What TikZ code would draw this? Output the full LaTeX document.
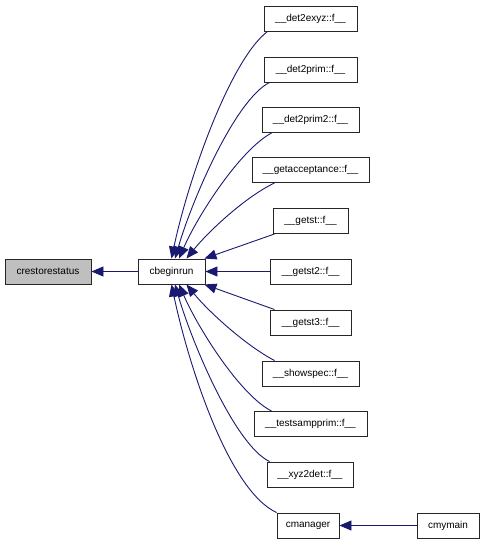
\documentclass[tikz,border=0pt]{standalone}
\usepackage{fontspec}
\setmainfont{Liberation Sans}
\usetikzlibrary{arrows.meta}
\definecolor{edgecol}{HTML}{191970}
\begin{document}
\begin{tikzpicture}[x=1pt,y=-1pt,
  box/.style={draw=black!85,line width=0.9pt,minimum height=25pt,inner sep=0pt,font=\fontsize{10}{12}\selectfont,fill=white},
  arr/.style={draw=edgecol,line width=0.9pt,-{Triangle[length=12pt,width=10pt]}}]
\useasboundingbox (0,0) rectangle (485,544);
\node[box,fill=black!25,minimum width=86pt] (crest) at (48,271.5) {crestorestatus};
\node[box,minimum width=67pt] (cbeg) at (171.5,271.5) {cbeginrun};
\node[box,minimum width=93pt] (d2exyz) at (310.5,18.5) {\_\_det2exyz::f\_\_};
\node[box,minimum width=93pt] (d2prim) at (310.5,69.5) {\_\_det2prim::f\_\_};
\node[box,minimum width=97pt] (d2prim2) at (310.5,120) {\_\_det2prim2::f\_\_};
\node[box,minimum width=117pt] (getacc) at (310.5,170) {\_\_getacceptance::f\_\_};
\node[box,minimum width=75pt] (getst) at (310.5,221) {\_\_getst::f\_\_};
\node[box,minimum width=81pt] (getst2) at (310.5,271.5) {\_\_getst2::f\_\_};
\node[box,minimum width=81pt] (getst3) at (310.5,322.5) {\_\_getst3::f\_\_};
\node[box,minimum width=97pt] (showspec) at (310.5,373.5) {\_\_showspec::f\_\_};
\node[box,minimum width=113pt] (testsamp) at (310.5,424) {\_\_testsampprim::f\_\_};
\node[box,minimum width=86pt] (xyz2det) at (310,474.5) {\_\_xyz2det::f\_\_};
\node[box,minimum width=62pt] (cman) at (308,525.5) {cmanager};
\node[box,minimum width=62pt] (cmy) at (448,525.5) {cmymain};

\draw[arr] (cbeg.west) -- (crest.east);
\draw[arr] (cmy.west) -- (cman.east);
\draw[arr] ([xshift=4pt]d2exyz.south west) .. controls (230,60) and (188,180) .. (cbeg.north);
\draw[arr] ([xshift=6pt]d2prim.south west) .. controls (235,100) and (192,200) .. ([xshift=3.5pt]cbeg.north);
\draw[arr] ([xshift=10pt]d2prim2.south west) .. controls (240,150) and (198,215) .. ([xshift=7.5pt]cbeg.north);
\draw[arr] ([xshift=23pt]getacc.south west) .. controls (245,197) and (208,232) .. ([xshift=15pt]cbeg.north);
\draw[arr] ([xshift=2pt]getst.south west) -- ([xshift=-1pt]cbeg.north east);
\draw[arr] (getst2.west) -- (cbeg.east);
\draw[arr] ([xshift=5pt]getst3.north west) -- ([xshift=-1pt]cbeg.south east);
\draw[arr] ([xshift=13pt]showspec.north west) .. controls (245,345) and (208,311) .. ([xshift=15pt]cbeg.south);
\draw[arr] ([xshift=18pt]testsamp.north west) .. controls (240,395) and (198,328) .. ([xshift=7.5pt]cbeg.south);
\draw[arr] ([xshift=3pt]xyz2det.north west) .. controls (235,445) and (192,343) .. ([xshift=3.5pt]cbeg.south);
\draw[arr] (cman.north west) .. controls (228,490) and (188,363) .. (cbeg.south);
\end{tikzpicture}
\end{document}
